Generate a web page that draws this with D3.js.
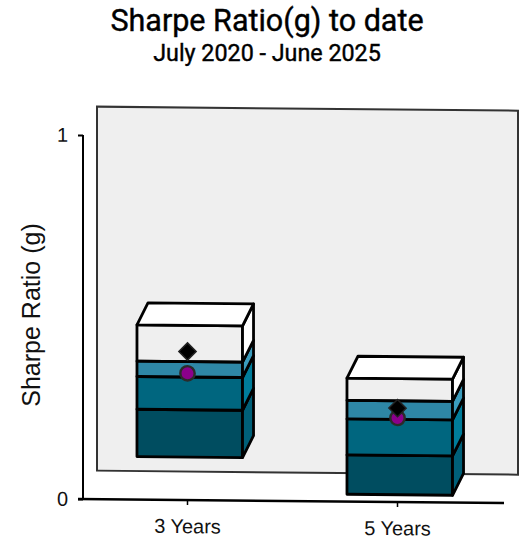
<!DOCTYPE html>
<html><head><meta charset="utf-8">
<script src="https://cdn.jsdelivr.net/npm/d3@7"></script>
<style>html,body{margin:0;padding:0;background:#fff}svg{display:block}</style>
</head><body><div id="c"></div>
<script>
const categories = ["3 Years", "5 Years"];
const boundaries3Y = [0.118, 0.248, 0.338, 0.380, 0.480];
const boundaries5Y = [0.020, 0.128, 0.227, 0.278, 0.339];
const circleValues = [0.348, 0.231];
const diamondValues = [0.408, 0.258];
const yTicks = [0, 1];
const frontColors = ["#004d60", "#00667f", "#2e87a6", "none"];
const sideColors = ["#005f78", "#007c9a", "#3b9cbd", "#ffffff"];
const title = "Sharpe Ratio(g) to date";
const subtitle = "July 2020 - June 2025";
const yTitle = "Sharpe Ratio (g)";

const W = 523, H = 540;
const svg = d3.select("#c").append("svg").attr("width", W).attr("height", H);
const T = "'Roboto',sans-serif", A = "'Liberation Sans',Arial,sans-serif";
svg.append("text").attr("x",267).attr("y",31).attr("text-anchor","middle").attr("font-family",T).attr("font-size",30.5).attr("font-weight",400).attr("stroke","#000").attr("stroke-width",0.4).attr("fill","#000").text(title);
svg.append("text").attr("x",267).attr("y",61).attr("text-anchor","middle").attr("font-family",T).attr("font-size",23.3).attr("font-weight",400).attr("stroke","#000").attr("stroke-width",0.4).attr("fill","#000").text(subtitle);
svg.append("text").attr("transform","translate(40,315) rotate(-90)").attr("text-anchor","middle").attr("font-family",A).attr("font-size",25).attr("fill","#111").text(yTitle);

const g = svg.append("g").attr("transform","translate(83,0) skewY(0.55)");
const x = d3.scaleBand().domain(categories).range([-0.5,419.5]).paddingInner(0.495).paddingOuter(0.2475);
const y = d3.scaleLinear().domain([0,1]).range([499,135]);
const wallDx = 14, wallDy = -28.5, barDx = 11, barDy = -22, barShift = 2.5;

g.append("rect").attr("x",x.range()[0]+wallDx+0.5).attr("y",y(1)+wallDy).attr("width",421).attr("height",y(0)-y(1))
 .attr("fill","#efefef").attr("stroke","#333").attr("stroke-width",2);

// y axis
const yAxis = g.append("g").call(d3.axisLeft(y).tickValues(yTicks).tickFormat(d3.format("d")).tickSize(5).tickPadding(10));
yAxis.select(".domain").attr("stroke","#000").attr("stroke-width",2).attr("d",`M0,${y(1)}V${y(0)}`);
yAxis.selectAll(".tick line").attr("stroke","#000").attr("stroke-width",2);
yAxis.selectAll("text").attr("font-family",A).attr("font-size",20).attr("fill","#111");

// x axis
const xAxis = g.append("g").attr("transform",`translate(0,${y(0)})`).call(d3.axisBottom(x).tickSize(5).tickPadding(14));
xAxis.select(".domain").attr("stroke","#000").attr("stroke-width",2.5).attr("d","M-5,0H421");
xAxis.selectAll(".tick line").attr("stroke","#000").attr("stroke-width",1.5);
xAxis.selectAll("text").attr("font-family",A).attr("font-size",20).attr("fill","#111");

const stacks = [boundaries3Y, boundaries5Y];
categories.forEach((c,i)=>{
  const b = stacks[i], x0 = x(c)+barShift, x1 = x0 + x.bandwidth()-0.5;
  const s = g.append("g").attr("stroke","#000").attr("stroke-width",2.8).attr("stroke-linejoin","round");
  const poly = pts => pts.map(p=>p.join(",")).join(" ");
  for (let k=0;k<4;k++){
    const yb=y(b[k]), yt=y(b[k+1]);
    s.append("polygon").attr("points",poly([[x0,yb],[x1,yb],[x1,yt],[x0,yt]])).attr("fill",frontColors[k]);
    s.append("polygon").attr("points",poly([[x1,yb],[x1+barDx,yb+barDy],[x1+barDx,yt+barDy],[x1,yt]])).attr("fill",sideColors[k]);
  }
  const yt=y(b[4]);
  s.append("polygon").attr("points",poly([[x0,yt],[x1,yt],[x1+barDx,yt+barDy],[x0+barDx,yt+barDy]])).attr("fill","#fff");
  const cx = x(c) + x.bandwidth()/2;
  g.append("circle").attr("cx",cx).attr("cy",y(circleValues[i])).attr("r",7.2).attr("fill","#8b008b").attr("stroke","#2b2b2b").attr("stroke-width",2.4);
  g.append("path").attr("d",d3.symbol(d3.symbolDiamond2,190)()).attr("transform",`translate(${cx},${y(diamondValues[i])})`)
   .attr("fill","#000").attr("stroke","#222").attr("stroke-width",1.5);
});
</script></body></html>
